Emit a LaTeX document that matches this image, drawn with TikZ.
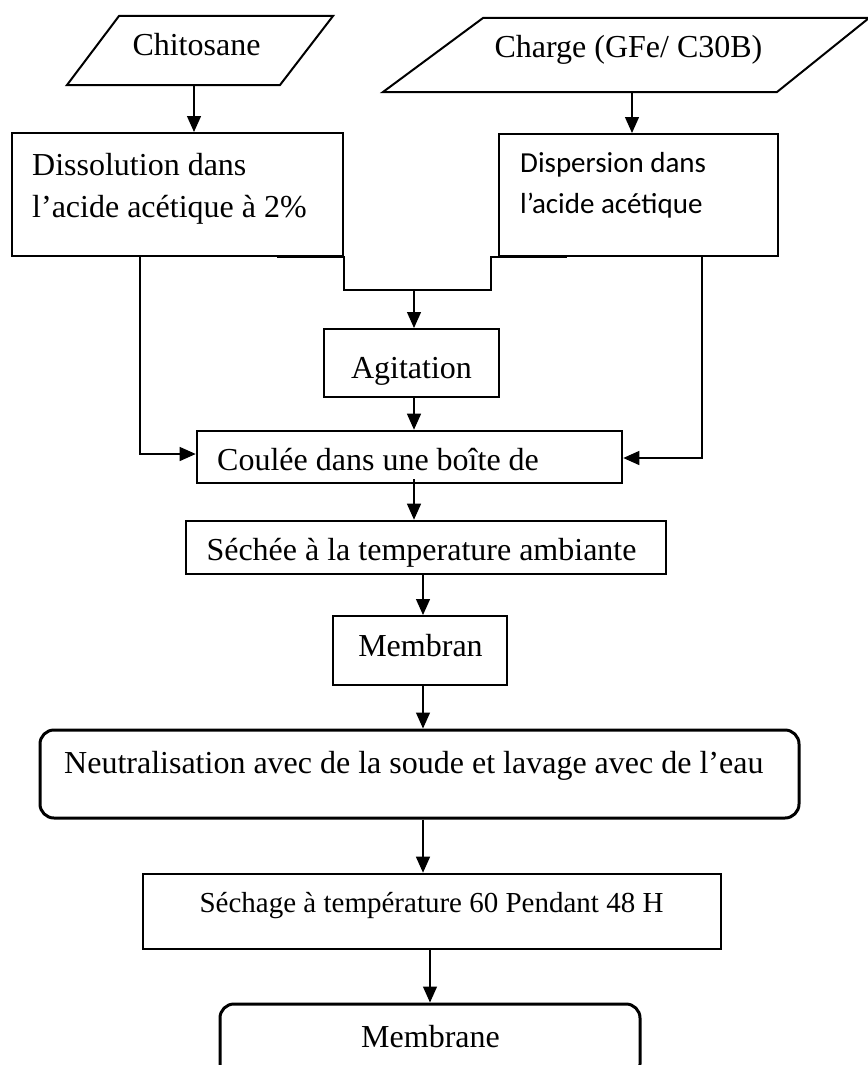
\documentclass[tikz,border=0pt]{standalone}
\usepackage{fontspec}
\setmainfont{Liberation Serif}
\newfontfamily\calibrifont{Carlito}
\usetikzlibrary{arrows.meta}
\begin{document}
\begin{tikzpicture}[x=1pt,y=-1pt,
  txt/.style={inner sep=0pt, font=\fontsize{32}{40}\selectfont},
  smalltxt/.style={inner sep=0pt, font=\fontsize{29}{36}\selectfont},
  sanstxt/.style={inner sep=0pt, font=\calibrifont\fontsize{29}{36}\selectfont},
  bx/.style 2 args={draw, rectangle, inner sep=0pt, line width=2pt, minimum width=#1, minimum height=#2},
  rbx/.style 2 args={draw, rectangle, inner sep=0pt, line width=3pt, rounded corners=14pt, minimum width=#1, minimum height=#2},
  para/.style={draw, line width=2pt, line join=miter},
  link/.style={draw, line width=1.3pt},
  conn/.style={draw, line width=1.3pt, -{Triangle[length=16pt,width=14pt]}}
]
\useasboundingbox (0,0) rectangle (867,1065);

% input parallelograms
\draw[para] (119,16) -- (333,16) -- (280,85) -- (67,85) -- cycle;
\node[txt, anchor=base] (chit) at (196.5,56) {Chitosane};
\coordinate (chitb) at (194,85);

\draw[para] (483,18) -- (869,18) -- (777,92) -- (383,92) -- cycle;
\node[txt, anchor=base] (charge) at (628.5,58) {Charge (GFe/ C30B)};
\coordinate (charb) at (632,92);

% boxes
\node[bx={331pt}{123pt}] (diss) at (177.5,194.5) {};
\node[txt, anchor=base west] (diss1) at (32,175) {Dissolution dans};
\node[txt, anchor=base west] (diss2) at (32,217) {l’acide acétique à 2\%};

\node[bx={279pt}{122pt}] (disp) at (638.5,195) {};
\node[sanstxt, anchor=base west] (disp1) at (520,172) {Dispersion dans};
\node[sanstxt, anchor=base west] (disp2) at (520,213) {l’acide acétique};

\node[bx={175pt}{68pt}] (agit) at (411.5,363) {};
\node[txt, anchor=base] (agitt) at (411.5,378) {Agitation};

\node[bx={425pt}{52pt}, line width=2.6pt] (coul) at (409.5,457) {};
\node[txt, anchor=base west] (coult) at (217,470) {Coulée dans une boîte de};

\node[bx={480pt}{53pt}, line width=2.6pt] (seche) at (426,547.5) {};
\node[txt, anchor=base] (secht) at (421.5,560) {Séchée à la temperature ambiante};

\node[bx={174pt}{69pt}] (memb) at (420,650.5) {};
\node[txt, anchor=base] (membt) at (420.5,656) {Membran};

\node[rbx={759pt}{88pt}] (neut) at (419.5,774) {};
\node[txt, anchor=base west] (neutt) at (64,773) {Neutralisation avec de la soude et lavage avec de l’eau};

\node[bx={578pt}{75pt}, line width=2.6pt] (sech) at (432,911.5) {};
\node[smalltxt, anchor=base] (secht2) at (431.5,912) {Séchage à température 60 Pendant 48 H};

\node[rbx={420pt}{74pt}] (membf) at (430,1041) {};
\node[txt, anchor=base] (membft) at (430.5,1047) {Membrane};

% connectors
\draw[conn] (chitb) -- (chitb |- diss.north);
\draw[conn] (charb) -- (charb |- disp.north);

\coordinate (dl) at (140,454);
\draw[conn] (diss.south -| dl) -- (dl) -- (dl -| coul.west);
\coordinate (dr) at (702,458);
\draw[conn] (disp.south -| dr) -- (dr) -- (dr -| coul.east);

\coordinate (jl) at (344,290);
\coordinate (jr) at (491,290);
\coordinate (jn) at (414,290);
\coordinate (jla) at (277,257);
\coordinate (jra) at (567,257);
\draw[link] (jla) -| (jl) -- (jr) |- (jra);
\draw[conn] (jn) -- (jn |- agit.north);
\draw[conn] (agit.south -| jn) -- (jn |- coul.north);
\draw[conn] ([yshift=5pt]coul.south -| jn) -- (jn |- seche.north);

\coordinate (c2) at (423,0);
\draw[conn] (seche.south -| c2) -- (c2 |- memb.north);
\draw[conn] (memb.south -| c2) -- (c2 |- neut.north);
\draw[conn] (neut.south -| c2) -- (c2 |- sech.north);
\coordinate (c3) at (430,0);
\draw[conn] (sech.south -| c3) -- (c3 |- membf.north);
\end{tikzpicture}
\end{document}
